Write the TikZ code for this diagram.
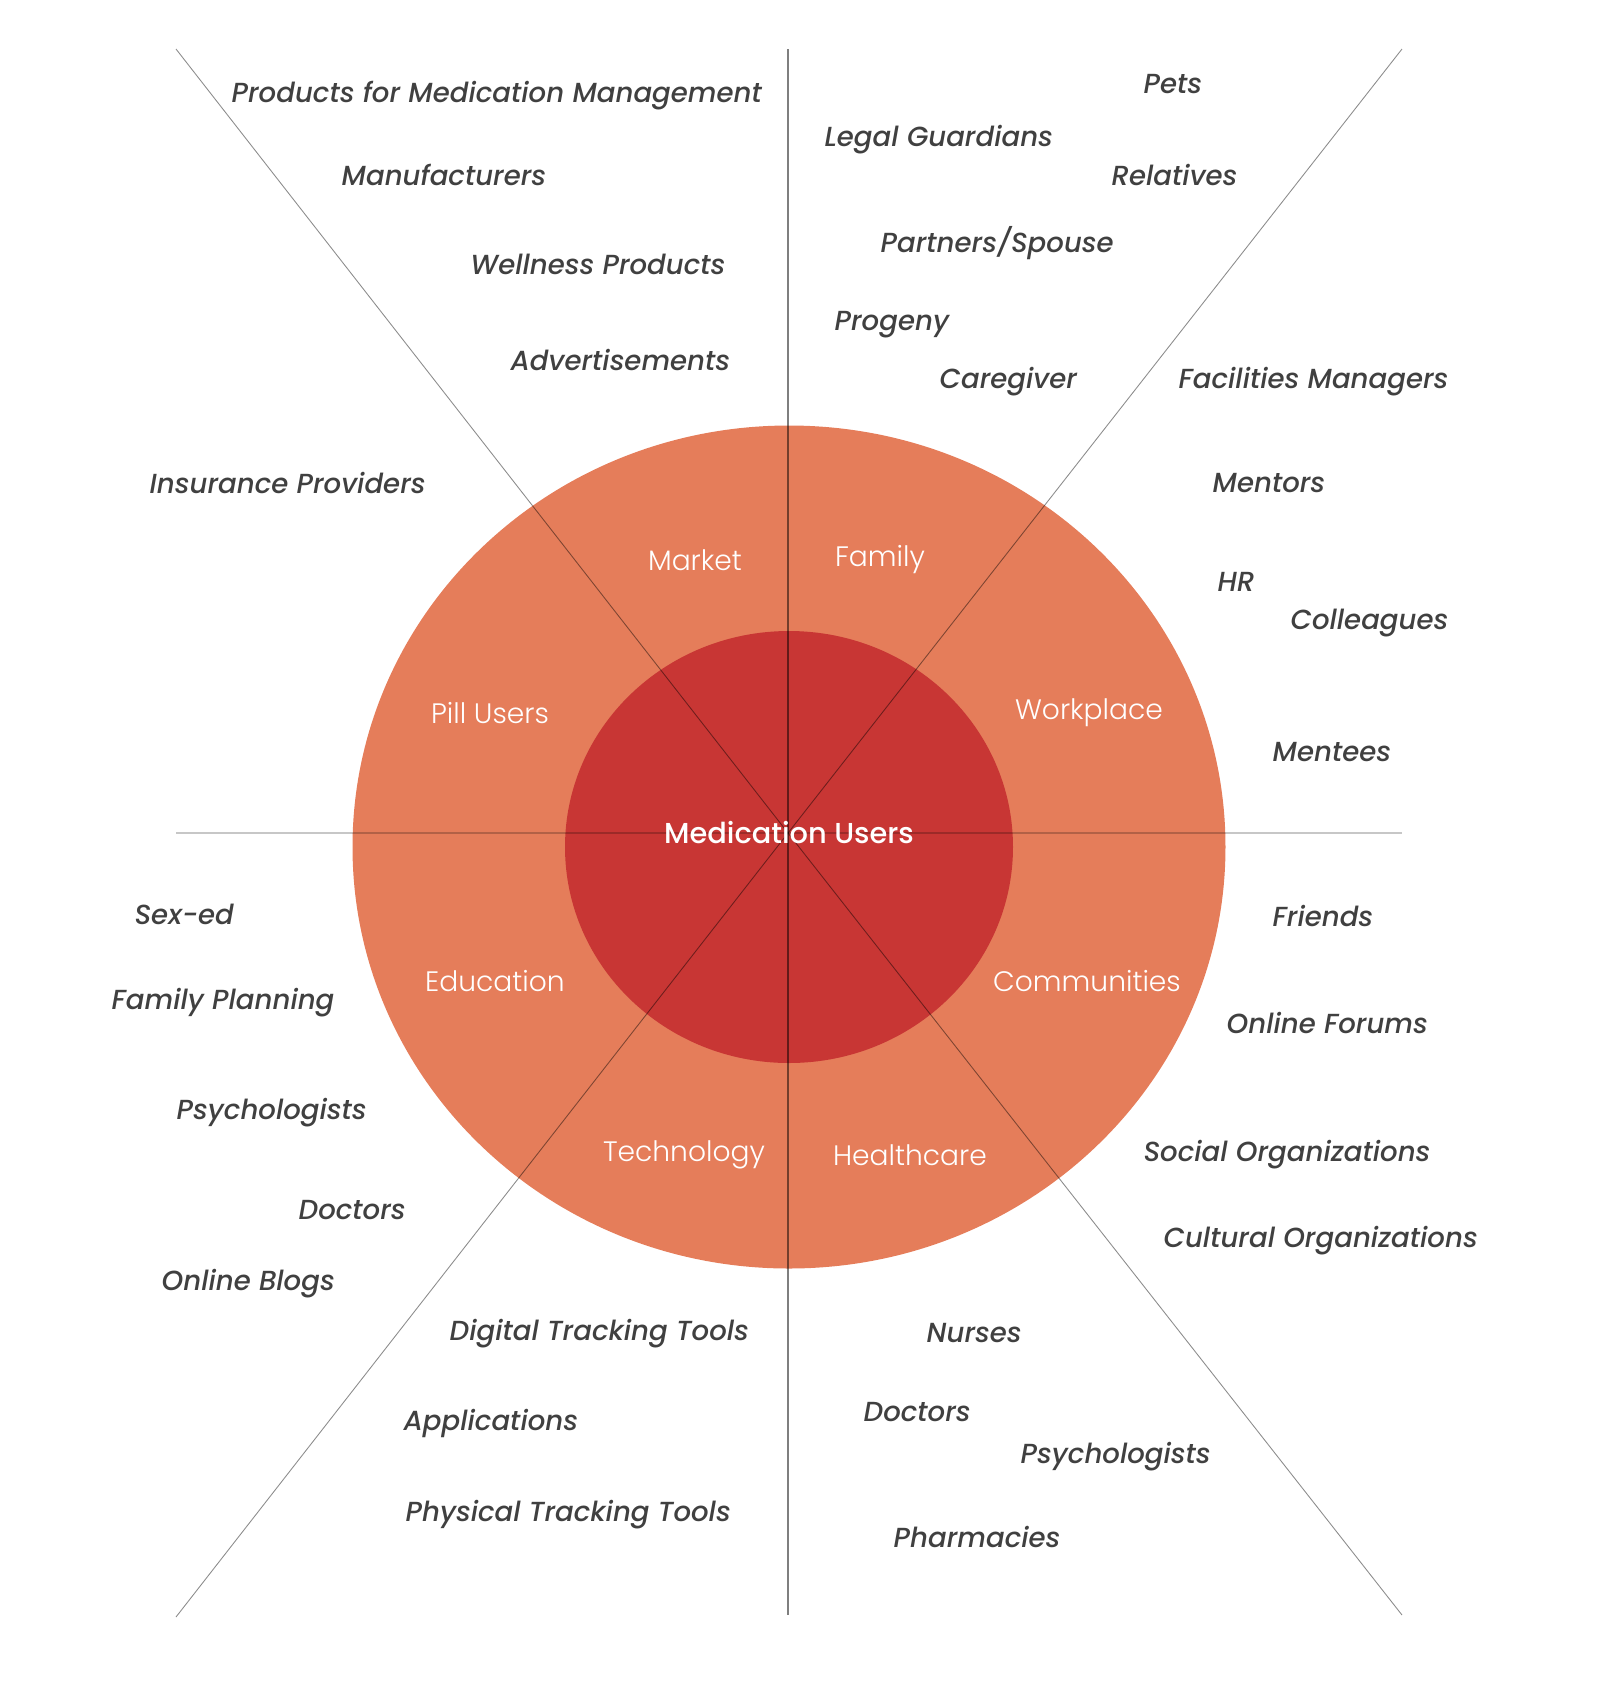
\documentclass[tikz,border=0pt]{standalone}
\usepackage{fontspec}
\setmainfont{Poppins}
\newfontfamily\labfont{Poppins Medium Italic}
\newfontfamily\secfont{Poppins Light}
\newfontfamily\hubfont{Poppins Medium}
\usetikzlibrary{positioning}
\definecolor{ringcol}{RGB}{229,125,90}
\definecolor{corecol}{RGB}{200,54,52}
\definecolor{labcol}{RGB}{64,64,64}
\begin{document}
\begin{tikzpicture}[x=0.01cm, y=-0.01cm,
  lab/.style={anchor=west, text=labcol, font=\labfont\fontsize{7.85}{9.4}\selectfont, inner sep=0pt, yshift=-0.6pt},
  sect/.style={text=white, font=\secfont\fontsize{8}{9.6}\selectfont, inner sep=0pt, yshift=-0.8pt},
  spoke/.style={draw=black, draw opacity=0.5, line width=0.4pt},
  thinspoke/.style={draw=black, draw opacity=0.45, line width=0.25pt},
  flat/.style={draw=black, draw opacity=0.22, line width=0.35pt}]
\useasboundingbox (0,0) rectangle (1604,1708);
% rings
\fill[ringcol] (789,847) ellipse [x radius=436.5, y radius=421.5];
\fill[corecol] (789,847) ellipse [x radius=224, y radius=216];
% spokes
\coordinate (hub) at (788,833);
\coordinate (n) at (788,49);
\coordinate (s) at (788,1615);
\coordinate (w) at (176,833);
\coordinate (e) at (1402,833);
\coordinate (nw) at (176,49);
\coordinate (se) at (1402,1615);
\coordinate (ne) at (1402,49);
\coordinate (sw) at (176,1617);
\draw[spoke] (n) -- (s);
\draw[flat] (w) -- (e);
\draw[thinspoke] (nw) -- (hub) -- (se);
\draw[thinspoke] (ne) -- (hub) -- (sw);
% sectors
\node[text=white, font=\hubfont\fontsize{8.2}{9.6}\selectfont, inner sep=0pt] (users) at (789,833) {Medication Users};
\node[sect] (market) at (695,557) {Market};
\node[sect] (family) at (880,557) {Family};
\node[sect] (workplace) at (1089,710) {Workplace};
\node[sect] (pill) at (490,710) {Pill Users};
\node[sect] (education) at (495,978) {Education};
\node[sect] (communities) at (1087,978) {Communities};
\node[sect] (technology) at (684,1152) {Technology};
\node[sect] (healthcare) at (910,1152) {Healthcare};
% market
\node[lab] (products) at (231,93) {Products for Medication Management};
\node[lab] (manuf) at (341,173) {Manufacturers};
\node[lab] (wellness) at (470,262) {Wellness Products};
\node[lab] (ads) at (510,358) {Advertisements};
\node[lab] (insurance) at (149,481) {Insurance Providers};
% family
\node[lab] (pets) at (1143,82) {Pets};
\node[lab] (guardians) at (824,138) {Legal Guardians};
\node[lab] (relatives) at (1111,173) {Relatives};
\node[lab] (partners) at (880,241) {Partners/Spouse};
\node[lab] (progeny) at (834,323) {Progeny};
\node[lab] (caregiver) at (939,380) {Caregiver};
% workplace
\node[lab] (facilities) at (1178,380) {Facilities Managers};
\node[lab] (mentors) at (1212,481) {Mentors};
\node[lab] (hr) at (1217,580) {HR};
\node[lab] (colleagues) at (1290,621) {Colleagues};
\node[lab] (mentees) at (1272,750) {Mentees};
% communities
\node[lab] (friends) at (1272,914) {Friends};
\node[lab] (forums) at (1226,1021) {Online Forums};
\node[lab] (social) at (1143,1152) {Social Organizations};
\node[lab] (cultural) at (1163,1238) {Cultural Organizations};
% healthcare
\node[lab] (nurses) at (926,1331) {Nurses};
\node[lab] (doctorsr) at (863,1410) {Doctors};
\node[lab] (psychr) at (1020,1454) {Psychologists};
\node[lab] (pharm) at (893,1535) {Pharmacies};
% technology
\node[lab] (digital) at (449,1331) {Digital Tracking Tools};
\node[lab] (apps) at (403,1421) {Applications};
\node[lab] (physical) at (405,1512) {Physical Tracking Tools};
% education
\node[lab] (blogs) at (161,1281) {Online Blogs};
\node[lab] (doctorsl) at (298,1208) {Doctors};
\node[lab] (psychl) at (176,1110) {Psychologists};
\node[lab] (planning) at (111,1000) {Family Planning};
\node[lab] (sexed) at (134,912) {Sex-ed};
\end{tikzpicture}
\end{document}
